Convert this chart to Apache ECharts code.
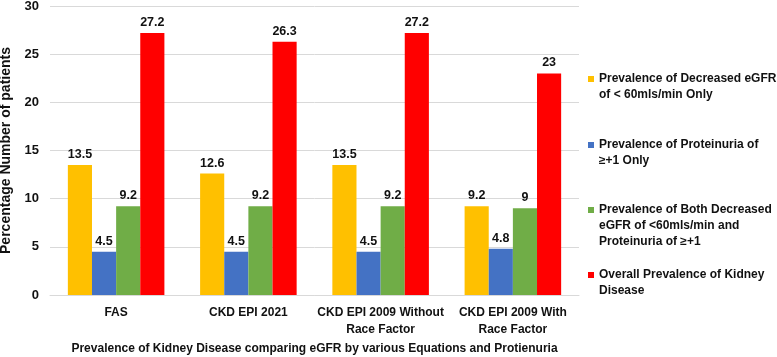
<!DOCTYPE html>
<html>
<head>
<meta charset="utf-8">
<script src="https://cdn.jsdelivr.net/npm/echarts@6/dist/echarts.min.js"></script>
<style>
  html, body { margin: 0; padding: 0; background: #fff; }
  #box { width: 777px; height: 357px; }
</style>
</head>
<body>
<div id="box"></div>
<script>
// categories (x axis)
var categories = ['FAS', 'CKD EPI 2021', 'CKD EPI 2009 Without\nRace Factor', 'CKD EPI 2009 With\nRace Factor'];
// series names
var seriesNames = [
  'Prevalence of Decreased eGFR\nof < 60mls/min Only',
  'Prevalence of Proteinuria of\n≥+1 Only',
  'Prevalence of Both Decreased\neGFR of <60mls/min and\nProteinuria of ≥+1',
  'Overall Prevalence of Kidney\nDisease'
];
// values
var decreasedEgfr = [13.5, 12.6, 13.5, 9.2];
var proteinuria = [4.5, 4.5, 4.5, 4.8];
var both = [9.2, 9.2, 9.2, 9];
var overall = [27.2, 26.3, 27.2, 23];
var colors = ['#FFC000', '#4472C4', '#70AD47', '#FF0000'];

var font = 'Liberation Sans';
var lh = 16;
// legend marker centres (y)
var markerCentres = [79, 145, 210, 275];

var myChart = echarts.init(document.getElementById('box'));

// one legend per entry so the marker sits on the first text line
var legends = seriesNames.map(function (name, i) {
  var n = name.split('\n').length;
  var h = n * lh;
  return {
    data: [name],
    orient: 'vertical',
    left: 588,
    top: markerCentres[i] - 8,
    padding: 0,
    itemWidth: 6,
    itemHeight: h,
    itemGap: 0,
    icon: 'path://M0,0L0,0M0,5H6V11H0ZM0,' + h + 'L0,' + h,
    selectedMode: false,
    textStyle: {
      fontFamily: font,
      fontWeight: 'bold',
      fontSize: 12,
      color: '#111',
      lineHeight: lh
    }
  };
});

var labelOption = {
  show: true,
  position: 'top',
  distance: 4,
  fontFamily: font,
  fontWeight: 'bold',
  fontSize: 12.5,
  color: '#111'
};

var seriesData = [decreasedEgfr, proteinuria, both, overall];

var option = {
  animation: false,
  color: colors,
  legend: legends,
  grid: {
    left: 50,
    right: 198,
    top: 6,
    bottom: 62,
    containLabel: false,
    outerBoundsMode: 'none'
  },
  xAxis: {
    type: 'category',
    data: categories,
    axisTick: { show: false },
    axisLine: { lineStyle: { color: '#d9d9d9' } },
    axisLabel: {
      fontFamily: font,
      fontWeight: 'bold',
      fontSize: 12,
      color: '#111',
      lineHeight: 17,
      margin: 9,
      interval: 0
    },
    name: 'Prevalence of Kidney Disease comparing eGFR by various Equations and Protienuria',
    nameLocation: 'middle',
    nameGap: 46,
    nameTextStyle: {
      fontFamily: font,
      fontWeight: 'bold',
      fontSize: 12,
      color: '#111'
    }
  },
  yAxis: {
    type: 'value',
    min: 0,
    max: 30,
    interval: 5,
    axisLine: { show: false },
    axisTick: { show: false },
    splitLine: { lineStyle: { color: '#d9d9d9' } },
    axisLabel: {
      fontFamily: font,
      fontWeight: 'bold',
      fontSize: 13,
      color: '#111',
      margin: 11
    },
    name: 'Percentage Number of patients',
    nameLocation: 'middle',
    nameGap: 33,
    nameTextStyle: {
      fontFamily: font,
      fontWeight: 'bold',
      fontSize: 14,
      color: '#111'
    }
  },
  series: seriesNames.map(function (name, i) {
    return {
      name: name,
      type: 'bar',
      barGap: 0,
      barCategoryGap: '27%',
      label: labelOption,
      data: seriesData[i]
    };
  })
};

myChart.setOption(option);
</script>
</body>
</html>
